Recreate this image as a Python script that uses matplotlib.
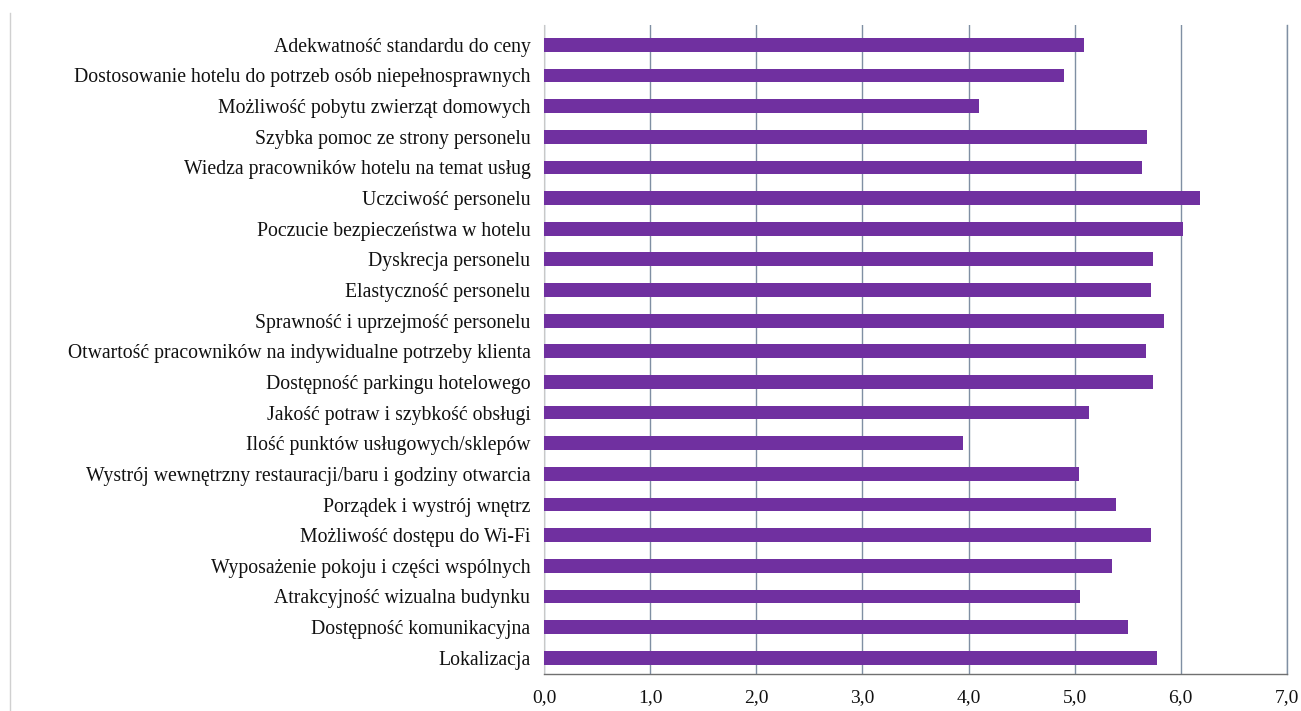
import matplotlib
matplotlib.use("Agg")
import matplotlib.pyplot as plt
from matplotlib.lines import Line2D

categories = [
    "Adekwatność standardu do ceny",
    "Dostosowanie hotelu do potrzeb osób niepełnosprawnych",
    "Możliwość pobytu zwierząt domowych",
    "Szybka pomoc ze strony personelu",
    "Wiedza pracowników hotelu na temat usług",
    "Uczciwość personelu",
    "Poczucie bezpieczeństwa w hotelu",
    "Dyskrecja personelu",
    "Elastyczność personelu",
    "Sprawność i uprzejmość personelu",
    "Otwartość pracowników na indywidualne potrzeby klienta",
    "Dostępność parkingu hotelowego",
    "Jakość potraw i szybkość obsługi",
    "Ilość punktów usługowych/sklepów",
    "Wystrój wewnętrzny restauracji/baru i godziny otwarcia",
    "Porządek i wystrój wnętrz",
    "Możliwość dostępu do Wi-Fi",
    "Wyposażenie pokoju i części wspólnych",
    "Atrakcyjność wizualna budynku",
    "Dostępność komunikacyjna",
    "Lokalizacja",
]
values = [5.09, 4.90, 4.10, 5.68, 5.64, 6.18, 6.02, 5.74, 5.72, 5.84, 5.67,
          5.74, 5.14, 3.95, 5.04, 5.39, 5.72, 5.35, 5.05, 5.50, 5.78]
xticks = [0, 1, 2, 3, 4, 5, 6, 7]
xticklabels = ["0,0", "1,0", "2,0", "3,0", "4,0", "5,0", "6,0", "7,0"]

plt.rcParams["font.family"] = ["Liberation Serif", "DejaVu Serif"]

fig = plt.figure(figsize=(13.01, 7.11), dpi=100)
ax = fig.add_axes([0.4184, 0.052, 0.5706, 0.913])

n = len(categories)
ypos = list(range(n - 1, -1, -1))
ax.barh(ypos, values, height=0.45, color="#7030A0", zorder=3)

ax.set_xlim(0, 7)
ax.set_ylim(-0.53, n - 1 + 0.65)
ax.set_xticks(xticks)
ax.set_xticklabels(xticklabels, fontsize=14)
ax.set_yticks(ypos)
ax.set_yticklabels(categories, fontsize=14.2)
ax.tick_params(axis="both", length=0, colors="#111111")
ax.tick_params(axis="x", pad=11)
ax.tick_params(axis="y", pad=10)

ax.grid(axis="x", color="#7f8fa3", linewidth=1.0, zorder=0)
ax.axvline(7, color="#7f8fa3", linewidth=1.0, zorder=0, clip_on=False)
for s in ["top", "right"]:
    ax.spines[s].set_visible(False)
ax.spines["left"].set_color("#c8c8c8")
ax.spines["bottom"].set_color("#707070")
ax.spines["bottom"].set_linewidth(1.0)

fig.add_artist(Line2D([10 / 1301, 10 / 1301], [0, 1 - 13 / 711],
                      transform=fig.transFigure, color="#d0d0d0", linewidth=1.0))

fig.savefig("out.png", dpi=100, facecolor="white")
